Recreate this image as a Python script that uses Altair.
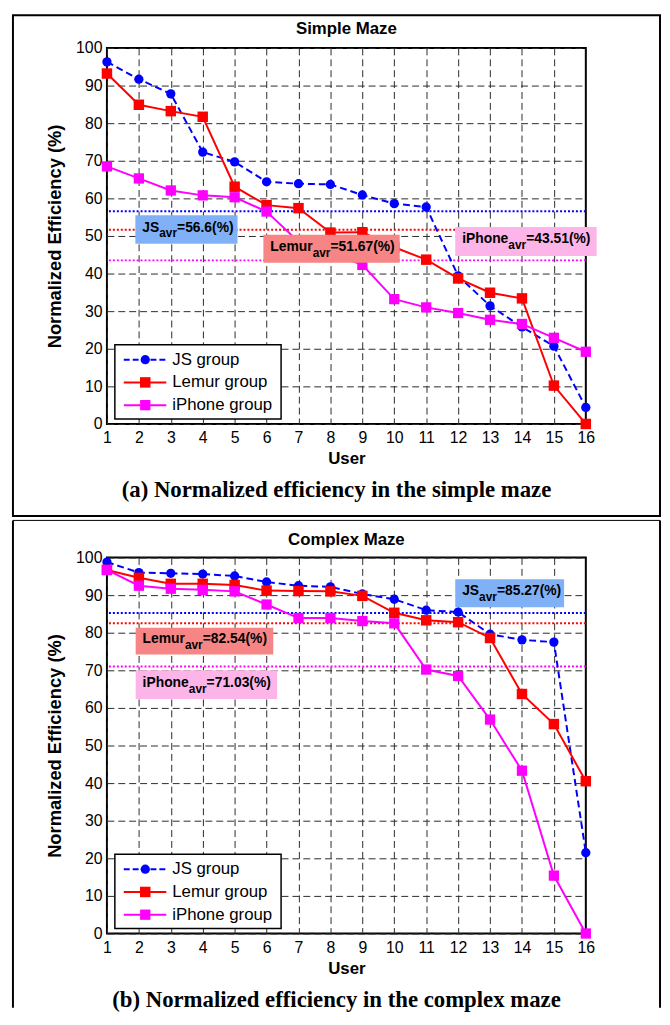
import altair as alt
import pandas as pd

# ---------------- data ----------------
users = list(range(1, 17))
group_labels = ["JS group", "Lemur group", "iPhone group"]
group_short = ["JS", "Lemur", "iPhone"]

simple_js = [96.3, 91.7, 87.8, 72.3, 69.7, 64.4, 63.9, 63.7, 60.9, 58.6, 57.7, 39.4, 31.4, 25.8, 20.7, 4.4]
simple_lemur = [93.2, 84.9, 83.2, 81.7, 63.1, 58.2, 57.4, 50.9, 51.0, 47.0, 43.7, 38.7, 34.9, 33.4, 10.2, 0.0]
simple_iphone = [68.5, 65.3, 62.1, 60.8, 60.3, 56.5, 48.5, 45.5, 42.3, 33.2, 31.0, 29.5, 27.7, 26.6, 22.9, 19.2]
simple_avr = [56.6, 51.67, 43.51]

complex_js = [98.8, 96.0, 95.8, 95.6, 95.1, 93.5, 92.5, 92.2, 90.3, 88.9, 86.0, 85.5, 79.6, 78.1, 77.5, 21.5]
complex_lemur = [96.7, 94.6, 93.0, 93.0, 92.7, 91.2, 91.1, 91.0, 89.8, 85.3, 83.3, 82.8, 78.6, 63.7, 55.7, 40.5]
complex_iphone = [96.7, 92.5, 91.7, 91.4, 91.0, 87.5, 83.9, 83.9, 83.1, 82.5, 70.2, 68.5, 56.9, 43.3, 15.4, 0.0]
complex_avr = [85.27, 82.54, 71.03]

# ---------------- styles / layout ----------------
series_colors = ["#0000ff", "#ff0000", "#ff00ff"]
series_shapes = ["circle", "square", "square"]
series_sizes = [88, 112, 108]
series_dashed = [True, False, False]
box_colors = ["#80b1f7", "#f78585", "#fdb4e9"]

# annotation boxes (x1, x2, y_top, y_bottom) in data units
simple_boxes = [[1.89, 5.09, 55.5, 47.9], [5.90, 10.17, 50.3, 42.9], [11.91, 16.34, 52.4, 44.7]]
complex_boxes = [[11.91, 15.32, 94.2, 86.8], [1.90, 6.21, 81.3, 74.2], [1.90, 6.33, 70.0, 62.4]]

# legend layout in data units
legend_box = [1.248, 6.455, 21.05, 1.32]
legend_rows = [17.1, 11.05, 5.0]
legend_line = [1.527, 2.86]
legend_marker_x = 2.2
legend_text_x = 3.045

W, H = 484, 380
FONT = "Liberation Sans"

BOLD_W = {"J": 556, "S": 667, "L": 611, "e": 556, "m": 889, "u": 611, "r": 389,
          "i": 278, "P": 667, "h": 611, "o": 611, "n": 611, "a": 556, "v": 556}


def text_w(s, size):
    return sum(BOLD_W[c] for c in s) * size / 1000.0


def build_panel(series, avrs, boxes, title, caption, frame_kind, title_y):
    xs = alt.Scale(domain=[1, 16], nice=False, zero=False)
    ys = alt.Scale(domain=[0, 100], nice=False, zero=False)
    common = dict(grid=True, gridColor="#2a2a2a", gridDash=[7, 4], gridWidth=1,
                  domain=False, ticks=False, labelFont=FONT, labelFontSize=16,
                  labelColor="black", titleFont=FONT,
                  titleFontWeight="bold", titleColor="black", labelOverlap=False)
    x_axis = alt.Axis(values=users, title="User", labelPadding=6, titlePadding=5,
                      titleFontSize=17, labelFlush=False, **common)
    y_axis = alt.Axis(values=list(range(0, 101, 10)), title="Normalized Efficiency (%)",
                      labelPadding=5, titlePadding=11, titleFontSize=18.5, **common)

    def X(f):
        return alt.X(f, scale=xs, axis=x_axis)

    def Y(f):
        return alt.Y(f, scale=ys, axis=y_axis)

    one = pd.DataFrame({"a": [0]})
    layers = []

    # outer frame
    if frame_kind == "top":
        layers.append(alt.Chart(one).mark_rect(fillOpacity=0, stroke="black", strokeWidth=2).encode(
            x=alt.value(-95), x2=alt.value(559), y=alt.value(-33), y2=alt.value(473)))
    else:
        layers.append(alt.Chart(one).mark_rule(color="black", strokeWidth=1).encode(
            x=alt.value(-95), x2=alt.value(559), y=alt.value(-37.5), y2=alt.value(-37.5)))
        layers.append(alt.Chart(one).mark_rule(color="black", strokeWidth=2).encode(
            x=alt.value(-95), x2=alt.value(-95), y=alt.value(-37.5), y2=alt.value(455)))
        layers.append(alt.Chart(one).mark_rule(color="black", strokeWidth=2).encode(
            x=alt.value(559), x2=alt.value(559), y=alt.value(-37.5), y2=alt.value(455)))

    # series (first series carries the axes)
    for i, vals in enumerate(series):
        df = pd.DataFrame({"User": users, "Eff": vals})
        lk = dict(color=series_colors[i], strokeWidth=2)
        if series_dashed[i]:
            lk["strokeDash"] = [7, 4]
        layers.append(alt.Chart(df).mark_line(**lk).encode(x=X("User:Q"), y=Y("Eff:Q")))
        layers.append(alt.Chart(df).mark_point(filled=True, opacity=1, shape=series_shapes[i],
                                               size=series_sizes[i], color=series_colors[i]).encode(
            x=X("User:Q"), y=Y("Eff:Q")))
        if i == 0:
            # average lines, drawn right above the first series
            avr_df = pd.DataFrame({"avr": avrs, "c": series_colors})
            layers.insert(len(layers) - 2, alt.Chart(avr_df).mark_rule(strokeWidth=2, strokeDash=[2, 2]).encode(
                y=Y("avr:Q"), color=alt.Color("c:N", scale=None)))

    # annotation boxes
    box_df = pd.DataFrame({"x1": [b[0] for b in boxes], "x2": [b[1] for b in boxes],
                           "y1": [b[2] for b in boxes], "y2": [b[3] for b in boxes],
                           "fill": box_colors})
    layers.append(alt.Chart(box_df).mark_rect(opacity=1).encode(
        x=X("x1:Q"), x2="x2:Q", y=Y("y1:Q"), y2="y2:Q",
        fill=alt.Fill("fill:N", scale=None)))

    # annotation texts: NAME + subscript avr + =value(%)
    for name, avr, b in zip(group_short, avrs, boxes):
        cy = (b[2] + b[3]) / 2.0
        tdf = pd.DataFrame({"x": [b[0]], "y": [cy], "p": [name], "s": ["avr"],
                            "q": ["=" + str(avr) + "(%)"]})
        wp = text_w(name, 14)
        ws = text_w("avr", 12)
        layers.append(alt.Chart(tdf).mark_text(align="left", baseline="alphabetic", font=FONT,
                                               fontSize=14, fontWeight="bold", color="black",
                                               dx=7, dy=2).encode(text="p:N", x=X("x:Q"), y=Y("y:Q")))
        layers.append(alt.Chart(tdf).mark_text(align="left", baseline="alphabetic", font=FONT,
                                               fontSize=12, fontWeight="bold", color="black",
                                               dx=7 + wp, dy=8).encode(text="s:N", x=X("x:Q"), y=Y("y:Q")))
        layers.append(alt.Chart(tdf).mark_text(align="left", baseline="alphabetic", font=FONT,
                                               fontSize=14, fontWeight="bold", color="black",
                                               dx=7 + wp + ws, dy=2).encode(text="q:N", x=X("x:Q"), y=Y("y:Q")))

    # legend
    lbox = pd.DataFrame({"x1": [legend_box[0]], "x2": [legend_box[1]],
                         "y1": [legend_box[2]], "y2": [legend_box[3]]})
    layers.append(alt.Chart(lbox).mark_rect(fill="white", stroke="black", strokeWidth=1.5).encode(
        x=X("x1:Q"), x2="x2:Q", y=Y("y1:Q"), y2="y2:Q"))
    leg = pd.DataFrame({"label": group_labels, "c": series_colors, "y": legend_rows,
                        "lx1": [legend_line[0]] * 3, "lx2": [legend_line[1]] * 3,
                        "mx": [legend_marker_x] * 3, "tx": [legend_text_x] * 3,
                        "shape": series_shapes, "size": series_sizes,
                        "dash": ["dash" if d else "solid" for d in series_dashed]})
    layers.append(alt.Chart(leg).mark_rule(strokeWidth=2).encode(
        x=X("lx1:Q"), x2="lx2:Q", y=Y("y:Q"),
        color=alt.Color("c:N", scale=None),
        strokeDash=alt.StrokeDash("dash:N", scale=alt.Scale(domain=["dash", "solid"],
                                                           range=[[6, 3], [1, 0]]), legend=None)))
    layers.append(alt.Chart(leg).mark_point(filled=True, opacity=1).encode(
        x=X("mx:Q"), y=Y("y:Q"),
        color=alt.Color("c:N", scale=None), shape=alt.Shape("shape:N", scale=None),
        size=alt.Size("size:Q", scale=None)))
    layers.append(alt.Chart(leg).mark_text(align="left", baseline="middle", font=FONT,
                                           fontSize=17, color="black").encode(
        x=X("tx:Q"), y=Y("y:Q"), text="label:N"))

    # panel title and caption
    ttl = pd.DataFrame({"t": [title]})
    layers.append(alt.Chart(ttl).mark_text(align="center", baseline="alphabetic", font=FONT,
                                           fontSize=17, fontWeight="bold", color="black").encode(
        x=alt.value(W / 2), y=alt.value(title_y), text="t:N"))
    cap = pd.DataFrame({"t": [caption]})
    layers.append(alt.Chart(cap).mark_text(align="center", baseline="middle",
                                           font="Liberation Serif", fontSize=23,
                                           fontWeight="bold", color="black").encode(
        x=alt.value(232), y=alt.value(447), text="t:N"))

    return alt.layer(*layers).properties(width=W, height=H)


top = build_panel([simple_js, simple_lemur, simple_iphone], simple_avr, simple_boxes,
                  "Simple Maze", "(a) Normalized efficiency in the simple maze", "top", -14.5)
bottom = build_panel([complex_js, complex_lemur, complex_iphone], complex_avr, complex_boxes,
                     "Complex Maze", "(b) Normalized efficiency in the complex maze", "bottom", -12.5)

chart = alt.vconcat(top, bottom, spacing=0).properties(
    padding={"left": 3, "top": 0, "right": 0, "bottom": 0},
    background="white",
).configure_view(stroke="black", strokeWidth=2)

chart.save("out.html", embed_options={"renderer": "svg", "actions": False})
